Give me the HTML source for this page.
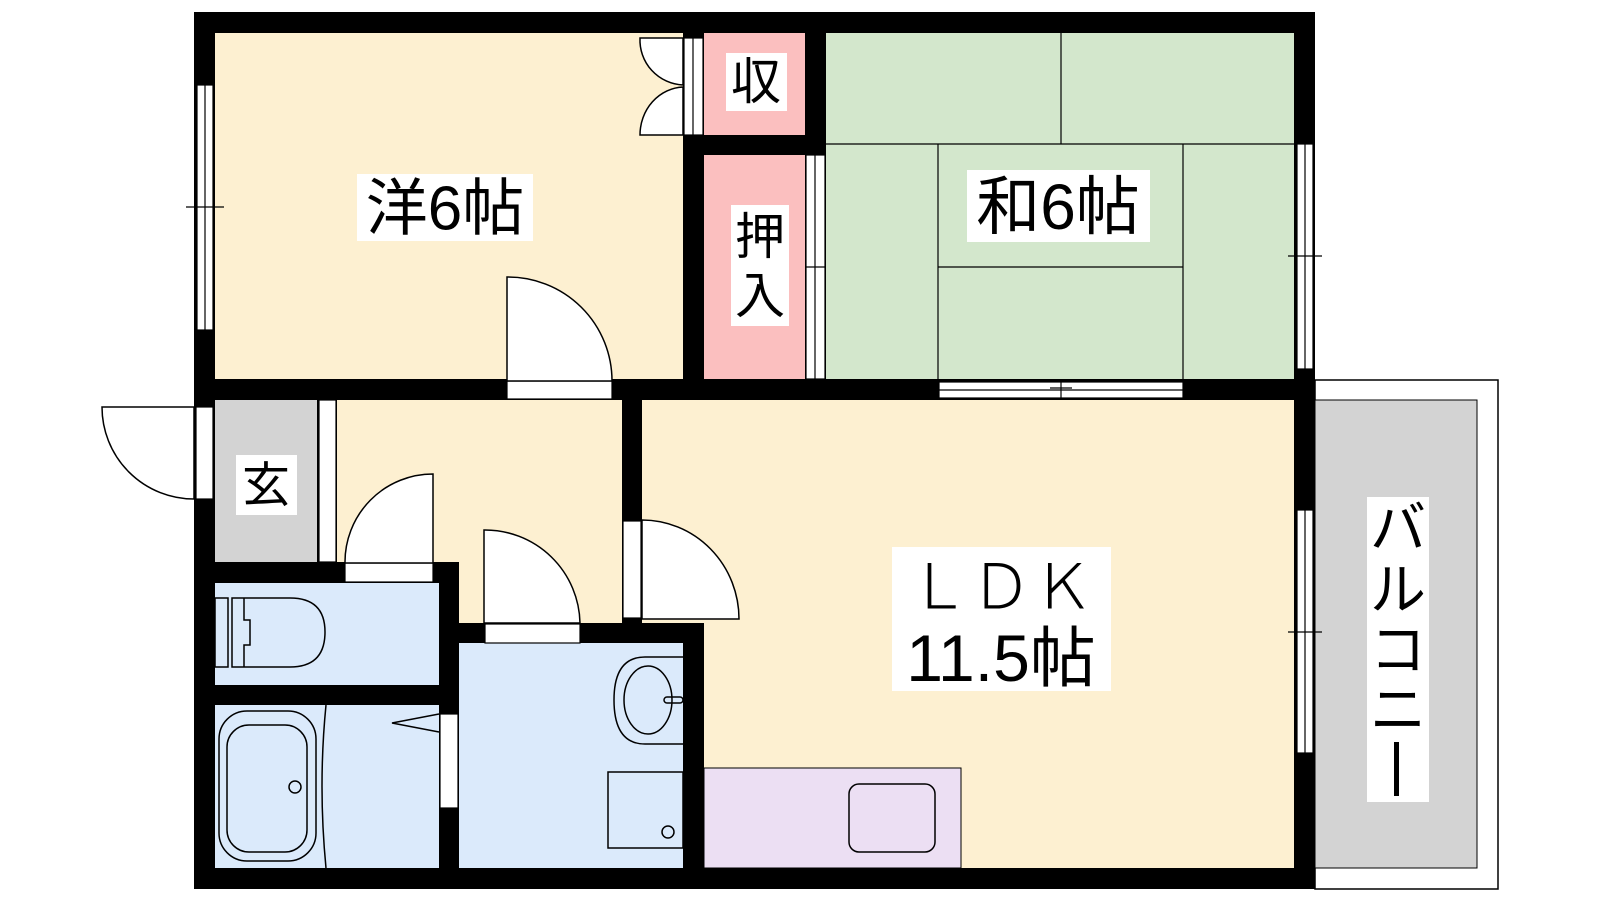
<!DOCTYPE html>
<html><head><meta charset="utf-8"><style>
html,body{margin:0;padding:0;background:#fff;}
svg{display:block}
text{font-family:"Liberation Sans","Noto Sans CJK JP",sans-serif;fill:#000}
</style></head><body>
<svg width="1600" height="900" viewBox="0 0 1600 900" xmlns="http://www.w3.org/2000/svg">
<!-- balcony -->
<rect x="1315" y="380" width="183" height="509" fill="#fff" stroke="#000" stroke-width="1.5"/>
<rect x="1315" y="400" width="162" height="468" fill="#d3d3d3" stroke="#000" stroke-width="1"/>
<!-- walls background -->
<rect x="194" y="12" width="1121" height="877" fill="#000"/>
<!-- rooms -->
<rect x="215" y="33" width="468" height="346" fill="#fdf0d1"/>
<rect x="704" y="33" width="101" height="102" fill="#fbbfbf"/>
<rect x="704" y="155" width="101" height="224" fill="#fbbfbf"/>
<rect x="826" y="33" width="468" height="346" fill="#d3e7cc"/>
<rect x="215" y="400" width="102" height="162" fill="#d3d3d3"/>
<rect x="337" y="400" width="285" height="162" fill="#fdf0d1"/>
<rect x="459" y="562" width="163" height="61" fill="#fdf0d1"/>
<rect x="642" y="400" width="652" height="468" fill="#fdf0d1"/>
<rect x="642" y="623" width="62" height="20" fill="#000"/>
<rect x="683" y="623" width="21" height="245" fill="#000"/>
<rect x="704" y="768" width="257" height="100" fill="#ecdff3" stroke="#000" stroke-width="1"/>
<rect x="215" y="583" width="224" height="102" fill="#dbeafb"/>
<rect x="215" y="705" width="224" height="163" fill="#dbeafb"/>
<rect x="459" y="643" width="224" height="225" fill="#dbeafb"/>
<!-- tatami lines -->
<g stroke="#000" stroke-width="1.2" fill="none">
<line x1="826" y1="144" x2="1294" y2="144"/>
<line x1="1061" y1="33" x2="1061" y2="144"/>
<line x1="938" y1="144" x2="938" y2="379"/>
<line x1="1183" y1="144" x2="1183" y2="379"/>
<line x1="938" y1="267" x2="1183" y2="267"/>
</g>
<!-- windows / sliding doors -->
<g fill="#fff" stroke="#000" stroke-width="1.2">
<rect x="197" y="85" width="16" height="245"/>
<rect x="1297" y="144" width="16" height="225"/>
<rect x="1297" y="510" width="16" height="243"/>
<rect x="939" y="382" width="244" height="16"/>
<rect x="806" y="155" width="19" height="224"/>
<rect x="319" y="400" width="17" height="162"/>
<rect x="196" y="407" width="17" height="92"/>
<rect x="684" y="38" width="19" height="97"/>
<rect x="507" y="381" width="105" height="18"/>
<rect x="345" y="563" width="88" height="19"/>
<rect x="485" y="624" width="95" height="19"/>
<rect x="623" y="521" width="18" height="97"/>
<rect x="440" y="714" width="18" height="94"/>
</g>
<g stroke="#000" stroke-width="1.2" fill="none">
<line x1="205" y1="85" x2="205" y2="330"/><line x1="186" y1="207" x2="224" y2="207"/>
<line x1="1305" y1="144" x2="1305" y2="369"/><line x1="1288" y1="256" x2="1322" y2="256"/>
<line x1="1305" y1="510" x2="1305" y2="753"/><line x1="1288" y1="632" x2="1322" y2="632"/>
<line x1="939" y1="390" x2="1183" y2="390"/><line x1="1061" y1="382" x2="1061" y2="398"/><line x1="1050" y1="388" x2="1072" y2="388"/>
<line x1="815" y1="155" x2="815" y2="379"/><line x1="806" y1="267" x2="825" y2="267"/>
<line x1="693" y1="38" x2="693" y2="135"/>
</g>
<!-- doors -->
<g fill="#fff" stroke="#000" stroke-width="1.5">
<path d="M507,381 L507,277 A104,104 0 0 1 612,381 Z"/>
<path d="M194,407 L102,407 A92,92 0 0 0 194,499 Z"/>
<path d="M433,563 L433,474 A88,88 0 0 0 345,563 Z"/>
<path d="M484,623 L484,530 A95,95 0 0 1 580,623 Z"/>
<path d="M642,619 L642,520 A97,99 0 0 1 739,619 Z"/>
<path d="M683,38 L640,38 A45,45 0 0 0 683,85 Z"/>
<path d="M683,135 L640,135 A45,48 0 0 1 683,87 Z"/>
</g>
<!-- fixtures -->
<g fill="none" stroke="#000" stroke-width="1.5">
<rect x="215" y="598" width="13" height="69"/>
<path d="M232,598 L290,598 Q325,598 325,632 Q325,667 290,667 L232,667 Z"/>
<path d="M244,598 L244,620 L250,620 L250,645 L244,645 L244,667"/>
<rect x="219" y="711" width="97" height="150" rx="28"/>
<rect x="227" y="725" width="80" height="127" rx="22"/>
<circle cx="295" cy="787" r="6"/>
<path d="M326,705 Q318,786 326,868"/>
<path d="M439,714 L392,723 L439,732"/>
<path d="M683,657 L645,657 Q614,657 614,700 Q614,744 645,744 L683,744"/>
<ellipse cx="648" cy="700" rx="24" ry="34"/>
<rect x="664" y="697" width="19" height="6" rx="3"/>
<rect x="608" y="772" width="75" height="76"/>
<circle cx="668" cy="832" r="6"/>
<rect x="849" y="784" width="86" height="68" rx="10"/>
</g>
<!-- labels -->
<g fill="#fff">
<rect x="357" y="174" width="176" height="67"/>
<rect x="726" y="53" width="61" height="58"/>
<rect x="731" y="205" width="58" height="121"/>
<rect x="967" y="170" width="183" height="72"/>
<rect x="236" y="455" width="61" height="60"/>
<rect x="892" y="547" width="219" height="144"/>
<rect x="1367" y="497" width="62" height="305"/>
</g>
<text x="445" y="209" font-size="62" text-anchor="middle" dominant-baseline="central">洋6帖</text>
<text x="756" y="82" font-size="50" text-anchor="middle" dominant-baseline="central">収</text>
<text x="760" y="237" font-size="50" text-anchor="middle" dominant-baseline="central">押</text>
<text x="760" y="296" font-size="50" text-anchor="middle" dominant-baseline="central">入</text>
<text x="1058" y="207" font-size="64" text-anchor="middle" dominant-baseline="central">和6帖</text>
<text x="266" y="486" font-size="48" text-anchor="middle" dominant-baseline="central">玄</text>
<text x="1001" y="588" font-size="62" text-anchor="middle" dominant-baseline="central" font-weight="300">ＬＤＫ</text>
<text x="1001" y="658" font-size="66" text-anchor="middle" dominant-baseline="central">11.5帖</text>
<text x="1398" y="528" font-size="56" text-anchor="middle" dominant-baseline="central">バ</text>
<text x="1398" y="590" font-size="56" text-anchor="middle" dominant-baseline="central">ル</text>
<text x="1398" y="650" font-size="56" text-anchor="middle" dominant-baseline="central">コ</text>
<text x="1398" y="710" font-size="56" text-anchor="middle" dominant-baseline="central">ニ</text>
<rect x="1394" y="742" width="5" height="54" fill="#000"/>
</svg>
</body></html>
